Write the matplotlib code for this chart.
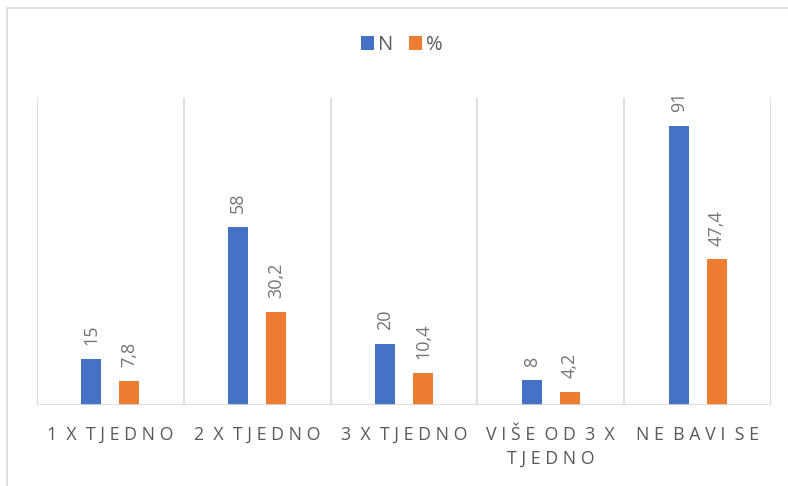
import numpy as np
import matplotlib.pyplot as plt
from matplotlib.patches import Rectangle

plt.rcParams['font.family'] = ['Open Sans', 'DejaVu Sans']

categories = ['1 X TJEDNO', '2 X TJEDNO', '3 X TJEDNO', 'VIŠE OD 3 X\nTJEDNO', 'NE BAVI SE']
n_vals = [15, 58, 20, 8, 91]
pct_vals = [7.8, 30.2, 10.4, 4.2, 47.4]
n_labels = ['15', '58', '20', '8', '91']
pct_labels = ['7,8', '30,2', '10,4', '4,2', '47,4']

blue = '#4472c4'
orange = '#ed7d31'
grid = '#d9d9d9'
txt = '#595959'


def spaced(s):
    # imitate Excel's wide letter spacing
    lines = []
    for line in s.split('\n'):
        words = [' '.join(w) for w in line.split(' ')]
        lines.append('  '.join(words))
    return '\n'.join(lines)


fig = plt.figure(figsize=(7.88, 4.86), dpi=100)
ax = fig.add_axes([37 / 788, 1 - 405 / 486, 734 / 788, 307 / 486])

x = np.arange(len(categories))
w = 0.136
off = 0.129
b1 = ax.bar(x - off, n_vals, w, color=blue, label='N', zorder=3)
b2 = ax.bar(x + off, pct_vals, w, color=orange, label='%', zorder=3)

for rect, lab in zip(b1, n_labels):
    ax.annotate(lab, (rect.get_x() + rect.get_width() / 2, rect.get_height()),
                xytext=(0, 10), textcoords='offset points', rotation=90,
                ha='center', va='bottom', fontsize=13, color='#757575')
for rect, lab in zip(b2, pct_labels):
    ax.annotate(lab, (rect.get_x() + rect.get_width() / 2, rect.get_height()),
                xytext=(0, 10), textcoords='offset points', rotation=90,
                ha='center', va='bottom', fontsize=13, color='#757575')

ax.set_xlim(-0.5, len(categories) - 0.5)
ax.set_ylim(0, 100)
for b in np.arange(-0.5, len(categories), 1.0):
    ax.axvline(b, color=grid, lw=1.2, zorder=1)
ax.axhline(0, color=grid, lw=1.2, zorder=4)

ax.set_xticks(x)
ax.set_xticklabels([spaced(c) for c in categories], fontsize=12.8, color=txt,
                   linespacing=1.45)
ax.tick_params(axis='x', length=0, pad=15)
ax.set_yticks([])
for s in ax.spines.values():
    s.set_visible(False)

fig.legend(handles=[b1, b2], loc='center', bbox_to_anchor=(0.51, 1 - 45 / 486),
           ncol=2, frameon=False, fontsize=14.5, handlelength=0.65,
           handleheight=0.65, handletextpad=0.2, columnspacing=0.8,
           labelcolor=txt)

fig.patches.append(Rectangle((6.5 / 788, -0.1), 1.2, 1.1 - 8.5 / 486,
                             transform=fig.transFigure, fill=False,
                             edgecolor=grid, lw=1.2))

fig.savefig('out.png', dpi=100)
